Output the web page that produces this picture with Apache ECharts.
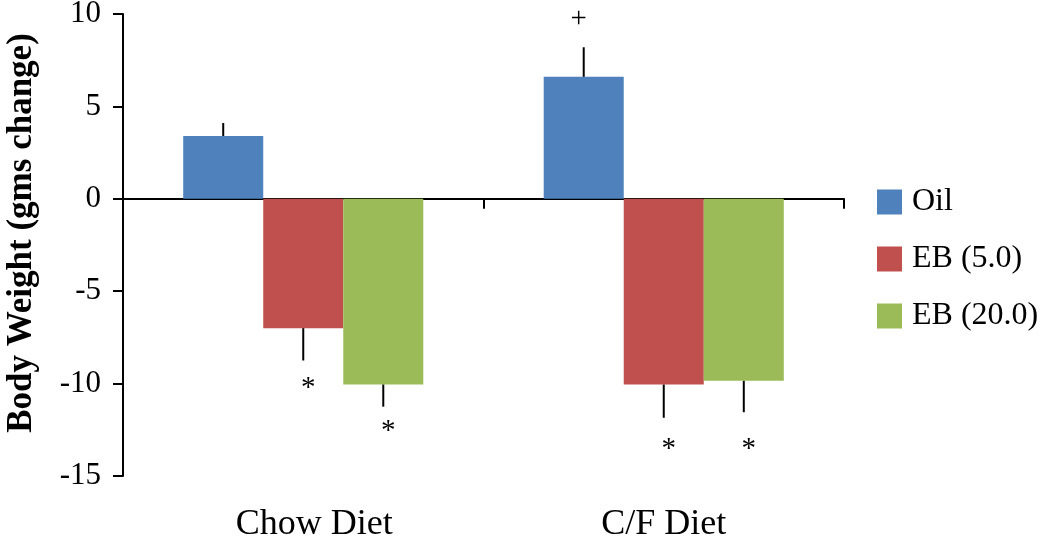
<!DOCTYPE html>
<html>
<head>
<meta charset="utf-8">
<script src="https://cdn.jsdelivr.net/npm/echarts@6/dist/echarts.min.js"></script>
<style>html,body{margin:0;padding:0;background:#fff;}#chart{width:1050px;height:552px;}</style>
</head>
<body>
<div id="chart"></div>
<script>
const categories = ['Chow Diet', 'C/F Diet'];
const seriesNames = ['Oil', 'EB (5.0)', 'EB (20.0)'];
const oilValues = [3.4, 6.6];
const eb5Values = [-7.0, -10.05];
const eb20Values = [-10.05, -9.85];
const oilErrors = [0.7, 1.6];
const eb5Errors = [1.75, 1.8];
const eb20Errors = [1.2, 1.7];
const oilMarks = ['', '+'];
const eb5Marks = ['*', '*'];
const eb20Marks = ['*', '*'];
const oilMarkY = [0, 9.7];
const eb5MarkY = [-9.9, -13.2];
const eb20MarkY = [-12.2, -13.2];
const yTicks = [-15, -10, -5, 0, 5, 10];

const colors = ['#4F81BD', '#C0504D', '#9BBB59'];
const FONT = '"Liberation Serif", "Times New Roman", serif';
const GAP = 0.334;

const values = [oilValues, eb5Values, eb20Values];
const errors = [oilErrors, eb5Errors, eb20Errors];
const marks = [oilMarks, eb5Marks, eb20Marks];
const markY = [oilMarkY, eb5MarkY, eb20MarkY];

const barSeries = seriesNames.map((name, i) => ({
  name: name,
  type: 'bar',
  xAxisIndex: 0,
  data: values[i],
  barGap: '0%',
  barCategoryGap: (GAP * 100) + '%',
  itemStyle: { color: colors[i] },
  emphasis: { disabled: true },
  z: 2
}));

const errSeries = seriesNames.map((name, i) => ({
  type: 'custom',
  xAxisIndex: 0,
  clip: false,
  silent: true,
  z: 3,
  data: categories.map((c, k) => [k, values[i][k], errors[i][k], markY[i][k], marks[i][k]]),
  renderItem: function (params, api) {
    const k = api.value(0);
    const v = api.value(1);
    const e = api.value(2);
    const band = api.size([1, 0])[0];
    const bw = band * (1 - GAP) / 3;
    const dx = (i - 1) * bw;
    const p0 = api.coord([k, v]);
    const end = v >= 0 ? v + e : v - e;
    const p1 = api.coord([k, end]);
    const x = p0[0] + dx;
    const children = [{
      type: 'line',
      shape: { x1: x, y1: p0[1], x2: x, y2: p1[1] },
      style: { stroke: '#000', lineWidth: 2 }
    }];
    const m = marks[i][k];
    if (m) {
      const pm = api.coord([k, markY[i][k]]);
      children.push({
        type: 'text',
        x: x + (m === '*' ? 5 : -5),
        y: pm[1] + (m === '*' ? 7 : 0),
        style: { text: m, fontFamily: FONT, fontSize: 29, fill: '#000', align: 'center', verticalAlign: 'middle' }
      });
    }
    return { type: 'group', children: children };
  }
}));

const chart = echarts.init(document.getElementById('chart'));
chart.setOption({
  animation: false,
  backgroundColor: '#fff',
  grid: { left: 123, right: 206, top: 14, bottom: 76, containLabel: false, outerBoundsMode: 'none' },
  legend: {
    orient: 'vertical',
    left: 877,
    top: 186,
    padding: 0,
    itemWidth: 25,
    itemHeight: 25,
    itemGap: 25,
    icon: 'rect',
    data: seriesNames,
    textStyle: { fontFamily: FONT, fontSize: 32, color: '#000', padding: [0, 0, 0, 5] },
    selectedMode: false
  },
  xAxis: [
    {
      type: 'category',
      data: categories,
      position: 'bottom',
      axisLine: { show: false, onZero: false },
      axisTick: { show: false },
      axisLabel: {
        fontFamily: FONT, fontSize: 36, color: '#000', margin: 31,
        formatter: function (v, idx) { return idx === 0 ? '{a|' + v + '}' : '{b|' + v + '}'; },
        rich: {
          a: { fontFamily: FONT, fontSize: 36, color: '#000', padding: [0, 0, 0, 22] },
          b: { fontFamily: FONT, fontSize: 36, color: '#000' }
        }
      },
      splitLine: { show: false }
    },
    {
      type: 'category',
      data: categories,
      position: 'bottom',
      axisLine: { show: true, onZero: true, lineStyle: { color: '#000', width: 2 } },
      axisTick: { show: true, length: 10, lineStyle: { color: '#000', width: 2 } },
      axisLabel: { show: false },
      splitLine: { show: false }
    }
  ],
  yAxis: {
    type: 'value',
    min: yTicks[0],
    max: yTicks[yTicks.length - 1],
    interval: 5,
    name: 'Body Weight (gms change)',
    nameLocation: 'middle',
    nameGap: 84,
    nameTextStyle: { fontFamily: FONT, fontSize: 35, fontWeight: 'bold', color: '#000', padding: [0, 0, 0, 24] },
    axisLine: { show: true, lineStyle: { color: '#000', width: 2 } },
    axisTick: { show: true, length: 10, lineStyle: { color: '#000', width: 2 } },
    axisLabel: { fontFamily: FONT, fontSize: 31, color: '#000', margin: 22 },
    splitLine: { show: false }
  },
  series: barSeries.concat(errSeries)
});
</script>
</body>
</html>
